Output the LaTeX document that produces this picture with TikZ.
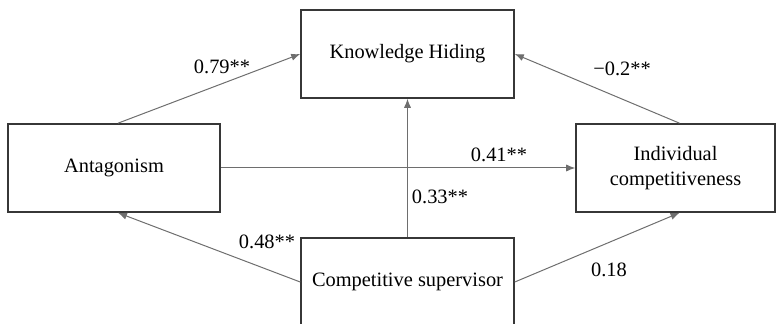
\documentclass[tikz,border=0pt]{standalone}
\usepackage{fontspec}
\setmainfont{Liberation Serif}
\usetikzlibrary{arrows.meta}
\definecolor{boxline}{RGB}{55,55,55}
\definecolor{pathline}{RGB}{110,110,110}
\tikzset{
	var/.style={draw=boxline, line width=0.8pt, minimum height=44pt, align=center, inner sep=2pt},
	path/.style={draw=pathline, line width=0.5pt, -{Latex[length=4.5pt,width=3.6pt]}},
	coef/.style={inner sep=0pt}
}
\begin{document}
	\begin{tikzpicture}[x=0.5pt, y=-0.5pt, font=\fontsize{10.2}{12.5}\selectfont]
		\useasboundingbox (0,0) rectangle (776,324);
		\node[var, minimum width=106.5pt] (KH) at (407.5,54) {Knowledge Hiding};
		\node[var, minimum width=106pt] (Ant) at (114,168) {Antagonism};
		\node[var, minimum width=99.5pt] (IC) at (675.5,168) {Individual\\competitiveness};
		\node[var, minimum width=106.5pt] (CS) at (407.5,282) {Competitive supervisor};
		% paths
		\draw[path] ([xshift=2pt]Ant.north) -- (KH.west);
		\draw[path] ([xshift=2pt]IC.north) -- (KH.east);
		\draw[path] (Ant.east) -- (IC.west);
		\draw[path] (CS.north) -- (KH.south);
		\draw[path] (CS.west) -- ([xshift=2pt]Ant.south);
		\draw[path] (CS.east) -- ([xshift=2pt]IC.south);
		% coefficients
		\node[coef] (cAK) at (222,67) {0.79**};
		\node[coef] (cIK) at (622,69) {−0.2**};
		\node[coef] (cAI) at (499,155) {0.41**};
		\node[coef] (cCK) at (440,197) {0.33**};
		\node[coef] (cCA) at (267,242) {0.48**};
		\node[coef] (cCI) at (609,270) {0.18};
	\end{tikzpicture}
\end{document}
